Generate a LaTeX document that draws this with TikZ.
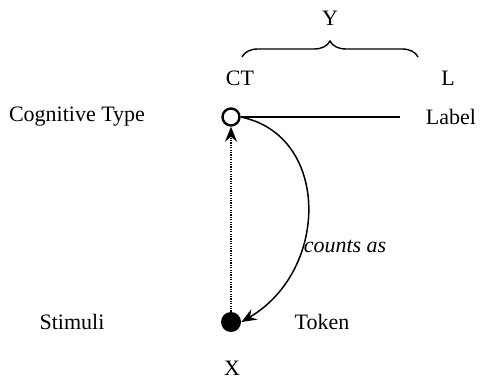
\documentclass[tikz,border=0pt]{standalone}
\usepackage{fontspec}
\setmainfont{Liberation Serif}
\usetikzlibrary{arrows.meta,decorations.pathreplacing}
\tikzset{
 txt/.style={inner sep=0pt,font=\fontsize{11}{13}\selectfont},
 opendot/.style={circle,draw=black,line width=1.2pt,fill=white,minimum size=8.5pt,inner sep=0pt},
 fulldot/.style={circle,fill=black,minimum size=10pt,inner sep=0pt},
 arr/.style={-{Stealth[length=7.5pt,width=6pt,inset=2.5pt]},line width=0.75pt},
 dotarr/.style={arr,dash pattern=on 0.6pt off 0.6pt,line width=0.6pt},
 brc/.style={decorate,decoration={brace,amplitude=8pt,aspect=0.5},line width=0.7pt}
}
\begin{document}
\begin{tikzpicture}[x=0.5pt,y=-0.5pt]
\useasboundingbox (0,0) rectangle (480,378);
\node[opendot] (ct) at (231,117) {};
\node[fulldot] (tok) at (231,322) {};
\coordinate (lend) at (400,117);
\node[txt] (cogtype) at (77,117) {Cognitive Type};
\node[txt] (labeltxt) at (451,117) {Label};
\node[txt] (cttxt) at (240,78) {CT};
\node[txt] (ltxt) at (448,78) {L};
\node[txt] (ytxt) at (330,18) {Y};
\node[txt] (stim) at (72,322) {Stimuli};
\node[txt] (token) at (322,322) {Token};
\node[txt] (xtxt) at (232,368) {X};
\node[txt,font=\fontsize{11}{13}\itshape] (counts) at (345,246) {counts as};
\coordinate (bl) at (242,57);
\coordinate (br) at (418,57);
\draw[brc] (bl) -- (br);
\draw[line width=0.75pt] (ct) -- (lend);
\draw[dotarr] (tok) -- (ct);
\draw[arr] (ct.east) .. controls (330,135) and (330,270) .. (tok.east);
\end{tikzpicture}
\end{document}
